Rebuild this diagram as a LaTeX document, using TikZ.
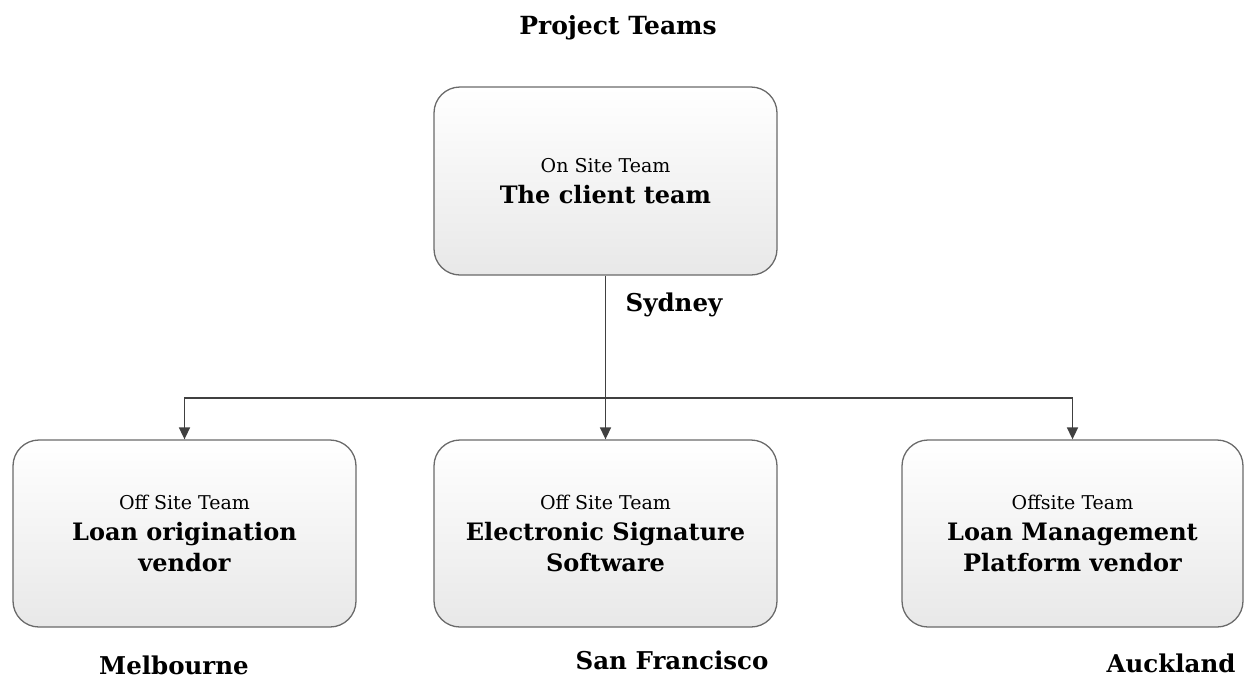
\documentclass[tikz,border=0pt]{standalone}
\usepackage{fontspec}
\setmainfont{DejaVu Serif}
\usetikzlibrary{arrows.meta}
\definecolor{boxline}{HTML}{6A6A6A}
\definecolor{conn}{HTML}{404040}
\newcommand\teamsub[1]{{\fontsize{19}{24}\selectfont\mdseries #1}}
\tikzset{
  team/.style={draw=boxline, line width=1.3pt, rounded corners=26pt,
    top color=white, bottom color=black!9, minimum width=343pt,
    minimum height=187pt, align=center, inner sep=0pt,
    font=\fontsize{24}{31}\selectfont\bfseries},
  place/.style={font=\fontsize{24.5}{28}\selectfont\bfseries},
  link/.style={draw=conn, line width=1.6pt, -{Triangle[length=12pt,width=11pt]}}
}
\begin{document}
\begin{tikzpicture}[x=1pt,y=-1pt]
\useasboundingbox (0,0) rectangle (1247,686);
\node[place, font=\fontsize{25}{28}\selectfont\bfseries] (title) at (618,28) {Project Teams};
\node[team, minimum height=188pt] (top) at (605.5,181) {\teamsub{On Site Team}\\The client team};
\node[team] (left) at (184.5,533.5) {\teamsub{Off Site Team}\\Loan origination\\vendor};
\node[team] (mid) at (605.5,533.5) {\teamsub{Off Site Team}\\Electronic Signature\\Software};
\node[team, minimum width=341pt] (right) at (1072.5,533.5) {\teamsub{Offsite Team}\\Loan Management\\Platform vendor};
\coordinate (j) at (605.5,398);
\draw[link] (top.south) -- (mid.north);
\draw[link] (j) -| (left.north);
\draw[link] (j) -| (right.north);
\node[place] (syd) at (674,305) {Sydney};
\node[place] (mel) at (174,665) {Melbourne};
\node[place] (sf) at (672,660) {San Francisco};
\node[place] (auk) at (1171,663) {Auckland};
\end{tikzpicture}
\end{document}
